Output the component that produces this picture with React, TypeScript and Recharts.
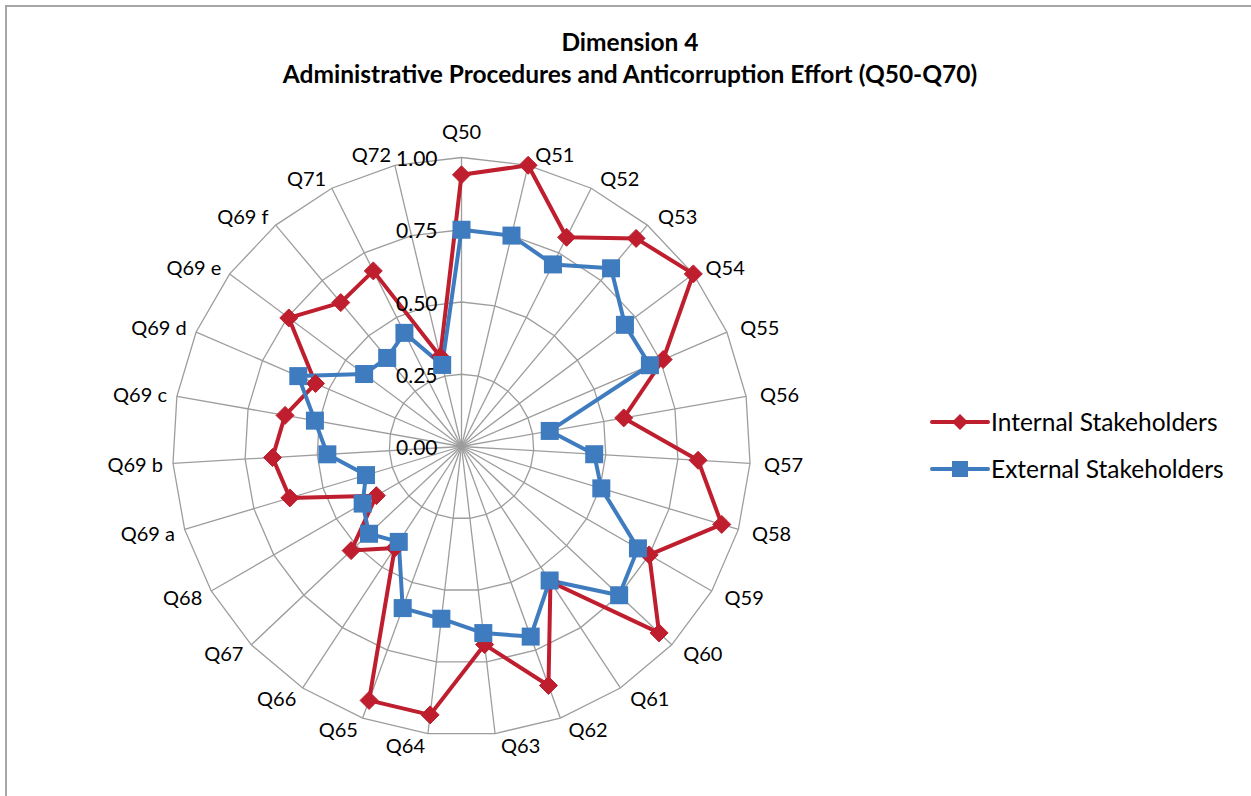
import React from "react";
import {
  RadarChart,
  Radar,
  PolarGrid,
  PolarAngleAxis,
  PolarRadiusAxis,
  Legend,
} from "recharts";

const categories = [
  "Q50", "Q51", "Q52", "Q53", "Q54", "Q55", "Q56", "Q57", "Q58", "Q59",
  "Q60", "Q61", "Q62", "Q63", "Q64", "Q65", "Q66", "Q67", "Q68",
  "Q69 a", "Q69 b", "Q69 c", "Q69 d", "Q69 e", "Q69 f", "Q71", "Q72",
];

const internalStakeholders = [
  0.94, 1.0, 0.81, 0.94, 1.0, 0.76, 0.57, 0.82, 0.94, 0.75,
  0.94, 0.56, 0.88, 0.69, 0.935, 0.935, 0.42, 0.525, 0.34,
  0.62, 0.655, 0.62, 0.55, 0.745, 0.65, 0.68, 0.32,
];

const externalStakeholders = [
  0.75, 0.75, 0.705, 0.805, 0.705, 0.71, 0.31, 0.46, 0.505, 0.705,
  0.75, 0.555, 0.7, 0.65, 0.6, 0.595, 0.395, 0.44, 0.395,
  0.345, 0.465, 0.515, 0.615, 0.42, 0.4, 0.44, 0.29,
];

const radiusTicks = [0, 0.25, 0.5, 0.75, 1];

const data = categories.map((cat, i) => ({
  cat,
  internal: internalStakeholders[i],
  external: externalStakeholders[i],
}));

const CX = 461.5;
const CY = 446.5;
const R = 289;
const RED = "#be1e2d";
const BLUE = "#3f7cbf";
const FONT = "Lato, 'Open Sans', sans-serif";

function AngleTick(props: any) {
  const deg = props.payload.coordinate;
  const rad = (deg * Math.PI) / 180;
  const sx = Math.cos(rad);
  const sy = Math.sin(rad);
  const ex = CX + R * sx;
  const ey = CY - R * sy;
  let anchor = "middle";
  let x = ex;
  let y = ey - 12 * sy;
  if (Math.abs(sx) < 0.05) {
    y = ey - 27 * sy;
  } else if (sx > 0) {
    anchor = "start";
    x = ex + 5 + 9 * sx;
  } else {
    anchor = "end";
    x = ex - 2 - 8 * Math.abs(sx);
  }
  return (
    <text x={x} y={y} textAnchor={anchor} dominantBaseline="central" fontSize={20} fill="#000" fontFamily={FONT}>
      {props.payload.value}
    </text>
  );
}

function RadiusTick(props: any) {
  const { x, y, payload } = props;
  return (
    <text x={x - 24} y={y} textAnchor="end" dominantBaseline="central" fontSize={21} fill="#000" fontFamily={FONT}>
      {Number(payload.value).toFixed(2)}
    </text>
  );
}

function DiamondDot(props: any) {
  const { cx, cy } = props;
  if (cx == null || cy == null) return <g />;
  const s = 9;
  return (
    <polygon
      points={`${cx},${cy - s} ${cx + s},${cy} ${cx},${cy + s} ${cx - s},${cy}`}
      fill={RED}
      stroke={RED}
    />
  );
}

function SquareDot(props: any) {
  const { cx, cy } = props;
  if (cx == null || cy == null) return <g />;
  const s = 9;
  return <rect x={cx - s} y={cy - s} width={2 * s} height={2 * s} fill={BLUE} />;
}

function LegendBox() {
  const rows = [
    { label: "Internal Stakeholders", color: RED, shape: "diamond" },
    { label: "External Stakeholders", color: BLUE, shape: "square" },
  ];
  return (
    <div style={{ fontFamily: FONT }}>
      {rows.map((r) => (
        <div key={r.label} style={{ display: "flex", alignItems: "center", height: 47 }}>
          <svg width={60} height={24}>
            <line x1={2} y1={12} x2={58} y2={12} stroke={r.color} strokeWidth={4} strokeLinecap="round" />
            {r.shape === "diamond" ? (
              <polygon points="30,4 38,12 30,20 22,12" fill={r.color} />
            ) : (
              <rect x={22} y={4} width={16} height={16} fill={r.color} />
            )}
          </svg>
          <span style={{ fontSize: 24.5, color: "#000", marginLeft: 1, whiteSpace: "nowrap" }}>{r.label}</span>
        </div>
      ))}
    </div>
  );
}

export default function App() {
  return (
    <div style={{ position: "absolute", left: 0, top: 0, width: 1251, height: 796, background: "#fff", overflow: "hidden" }}>
      <div
        style={{
          position: "absolute",
          left: 5,
          top: 5,
          width: 1300,
          height: 900,
          border: "2px solid #a6a6a6",
        }}
      />
      <div
        style={{
          position: "absolute",
          left: 0,
          top: 26,
          width: 1260,
          textAlign: "center",
          fontFamily: FONT,
          fontWeight: 700,
          fontSize: 24.5,
          lineHeight: "32px",
          color: "#000",
        }}
      >
        <div>Dimension 4</div>
        <div>Administrative Procedures and Anticorruption Effort (Q50-Q70)</div>
      </div>
      <div style={{ position: "absolute", left: 0, top: 0 }}>
        <RadarChart
          width={1251}
          height={796}
          data={data}
          cx={CX}
          cy={CY}
          outerRadius={R}
          margin={{ top: 0, right: 0, bottom: 0, left: 0 }}
        >
          <PolarGrid gridType="polygon" stroke="#9d9d9d" strokeWidth={1.3} />
          <PolarAngleAxis dataKey="cat" tick={<AngleTick />} tickLine={false} axisLine={false} />
          <Radar
            name="Internal Stakeholders"
            dataKey="internal"
            stroke={RED}
            strokeWidth={4}
            strokeLinejoin="round"
            fill="none"
            fillOpacity={0}
            dot={(p: any) => <DiamondDot key={`i${p.index}`} {...p} />}
            isAnimationActive={false}
          />
          <Radar
            name="External Stakeholders"
            dataKey="external"
            stroke={BLUE}
            strokeWidth={4}
            strokeLinejoin="round"
            fill="none"
            fillOpacity={0}
            dot={(p: any) => <SquareDot key={`e${p.index}`} {...p} />}
            isAnimationActive={false}
          />
          <PolarRadiusAxis
            angle={90}
            domain={[0, 1]}
            ticks={radiusTicks as any}
            tickCount={5}
            axisLine={false}
            tickLine={false}
            tick={<RadiusTick />}
          />
          <Legend
            content={<LegendBox />}
            wrapperStyle={{ position: "absolute", left: 930, top: 398, width: 320 }}
          />
        </RadarChart>
      </div>
    </div>
  );
}
